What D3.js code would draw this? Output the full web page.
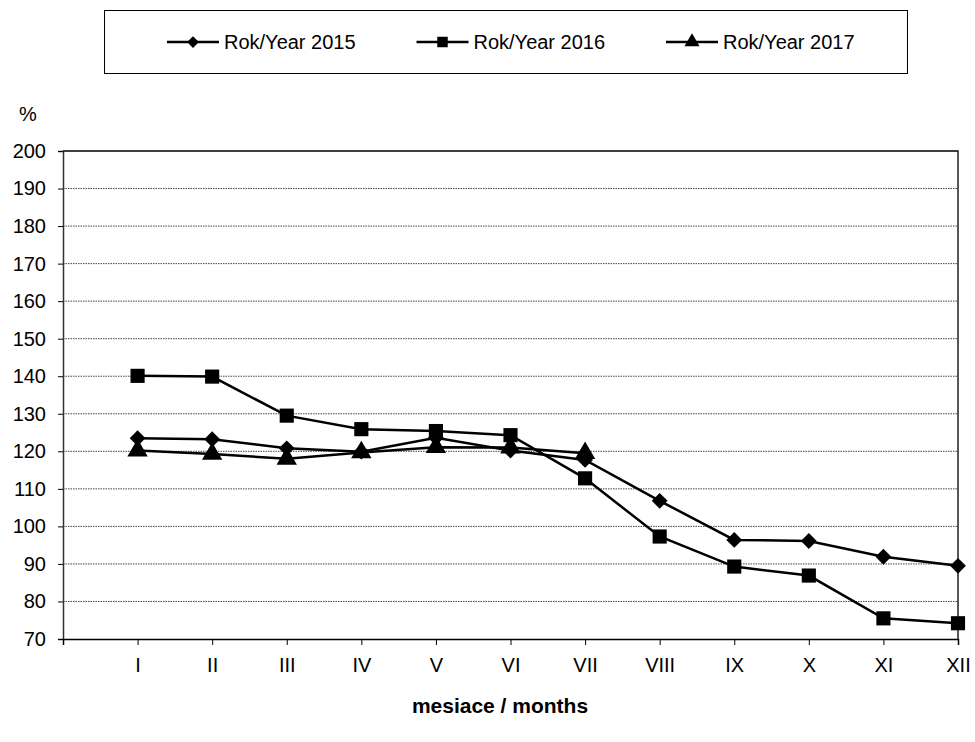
<!DOCTYPE html>
<html>
<head>
<meta charset="utf-8">
<script src="https://cdn.jsdelivr.net/npm/d3@7"></script>
<style>
  body { margin: 0; background: #fff; }
  text { font-family: "Liberation Sans", Arial, sans-serif; fill: #000; }
</style>
</head>
<body>
<div id="chart"></div>
<script>
// months on the x axis
const months = ["I", "II", "III", "IV", "V", "VI", "VII", "VIII", "IX", "X", "XI", "XII"];
const yTicks = [70, 80, 90, 100, 110, 120, 130, 140, 150, 160, 170, 180, 190, 200];

// values, %
const y2015 = [123.5, 123.2, 120.8, 119.9, 123.6, 120.2, 117.7, 106.8, 96.4, 96.1, 91.9, 89.5];
const y2016 = [140.1, 139.9, 129.5, 125.9, 125.4, 124.3, 112.8, 97.3, 89.3, 86.9, 75.5, 74.2];
const y2017 = [120.2, 119.3, 118.0, 119.7, 121.1, 121.0, 119.5];

const seriesNames = ["Rok/Year 2015", "Rok/Year 2016", "Rok/Year 2017"];
const seriesShapes = [d3.symbolDiamond2, d3.symbolSquare, d3.symbolTriangle];

const W = 975, H = 742;
const margin = {top: 151, right: 17, bottom: 103, left: 63};
const width = W - margin.left - margin.right;
const height = H - margin.top - margin.bottom;

const svg = d3.select("#chart").append("svg")
    .attr("width", W)
    .attr("height", H);

const g = svg.append("g")
    .attr("transform", "translate(" + margin.left + "," + margin.top + ")");

// each month sits at the right edge of its band
const x = d3.scaleLinear().domain([0, months.length]).range([0, width]);
const y = d3.scaleLinear().domain([70, 200]).range([height, 0]);

// dotted gridlines
g.append("g")
    .selectAll("line")
    .data(yTicks.filter(d => d > 70 && d < 200))
    .join("line")
    .attr("x1", 0).attr("x2", width)
    .attr("y1", d => y(d)).attr("y2", d => y(d))
    .attr("stroke", "#444")
    .attr("stroke-width", 1)
    .attr("stroke-dasharray", "1.5,1");

// top and right border
g.append("path")
    .attr("d", "M0," + y(200) + "H" + width + "V" + height)
    .attr("fill", "none")
    .attr("stroke", "#000")
    .attr("stroke-width", 1.3);

// y axis
const yAxis = g.append("g")
    .call(d3.axisLeft(y).tickValues(yTicks).tickSize(5).tickPadding(12));
yAxis.select(".domain").attr("stroke", "#333").attr("stroke-width", 1.5);
yAxis.selectAll("text").style("font-size", "20px");

// x axis
const xAxis = g.append("g")
    .attr("transform", "translate(0," + height + ")")
    .call(d3.axisBottom(x)
        .tickValues(d3.range(0, months.length + 1))
        .tickSize(6)
        .tickPadding(13)
        .tickFormat(i => i === 0 ? "" : months[i - 1]));
xAxis.select(".domain").attr("stroke", "#000").attr("stroke-width", 1.5);
xAxis.selectAll("text").style("font-size", "20px");

// lines and markers
const line = d3.line()
    .x((d, i) => x(i + 1))
    .y(d => y(d));

const allSeries = [y2015, y2016, y2017];
const markerSizes = [160, 200, 180];

allSeries.forEach((data, s) => {
    g.append("path")
        .datum(data)
        .attr("fill", "none")
        .attr("stroke", "#000")
        .attr("stroke-width", 2.5)
        .attr("d", line);

    g.append("g")
        .selectAll("path")
        .data(data)
        .join("path")
        .attr("transform", (d, i) => "translate(" + x(i + 1) + "," + y(d) + ")")
        .attr("d", d3.symbol().type(seriesShapes[s]).size(markerSizes[s]))
        .attr("fill", "#000");
});

// "%" label
svg.append("text")
    .attr("x", 28)
    .attr("y", 121)
    .attr("text-anchor", "middle")
    .style("font-size", "20px")
    .text("%");

// axis title
svg.append("text")
    .attr("x", 500)
    .attr("y", 713)
    .attr("text-anchor", "middle")
    .style("font-size", "21px")
    .style("font-weight", "bold")
    .text("mesiace / months");

// legend
const legend = svg.append("g");
legend.append("rect")
    .attr("x", 104.5).attr("y", 10.5)
    .attr("width", 803).attr("height", 63)
    .attr("fill", "#fff")
    .attr("stroke", "#000")
    .attr("stroke-width", 1);

const legendX = d3.scaleLinear().domain([0, 1]).range([167, 416.5]);

seriesNames.forEach((name, s) => {
    const lx = legendX(s);
    const item = legend.append("g").attr("transform", "translate(" + lx + ",42)");
    item.append("line")
        .attr("x1", 0).attr("x2", 52)
        .attr("stroke", "#000").attr("stroke-width", 2.5);
    item.append("path")
        .attr("transform", "translate(26,0)")
        .attr("d", d3.symbol().type(seriesShapes[s]).size(markerSizes[s] * 0.55))
        .attr("fill", "#000");
    item.append("text")
        .attr("x", 57)
        .attr("y", 7)
        .style("font-size", "20px")
        .text(name);
});
</script>
</body>
</html>
